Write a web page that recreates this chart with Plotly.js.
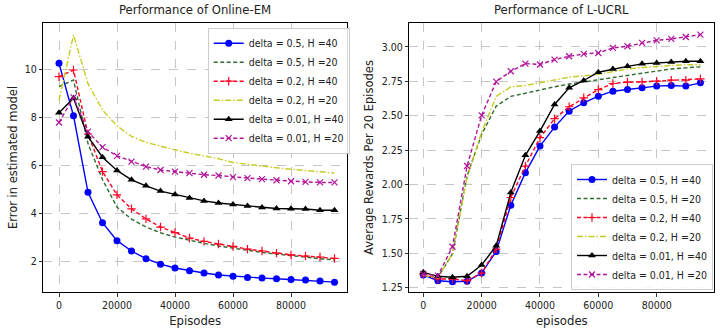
<!DOCTYPE html>
<html>
<head>
<meta charset="utf-8">
<script src="https://cdn.plot.ly/plotly-3.0.1.min.js"></script>
<style>html,body{margin:0;padding:0;background:#fff;}#chart{width:720px;height:336px;}</style>
</head>
<body>
<div id="chart"></div>
<script>
// ---- data ----
const episodes = [0, 5000, 10000, 15000, 20000, 25000, 30000, 35000, 40000, 45000,
                  50000, 55000, 60000, 65000, 70000, 75000, 80000, 85000, 90000, 95000];

const seriesNames = ["delta = 0.5, H =40", "delta = 0.5, H =20", "delta = 0.2, H =40",
                     "delta = 0.2, H =20", "delta = 0.01, H =40", "delta = 0.01, H =20"];

// Performance of Online-EM (error in estimated model)
const em_d05_h40  = [10.25, 8.06, 4.87, 3.60, 2.85, 2.42, 2.10, 1.87, 1.71, 1.60, 1.50, 1.42, 1.37, 1.32, 1.29, 1.26, 1.23, 1.21, 1.17, 1.12];
const em_d05_h20  = [9.28, 9.55, 6.90, 5.40, 4.25, 3.75, 3.42, 3.18, 3.00, 2.86, 2.74, 2.63, 2.53, 2.44, 2.36, 2.29, 2.22, 2.16, 2.10, 2.05];
const em_d02_h40  = [9.69, 9.97, 7.30, 5.73, 4.76, 4.18, 3.76, 3.42, 3.19, 2.96, 2.82, 2.71, 2.61, 2.50, 2.42, 2.33, 2.26, 2.21, 2.17, 2.11];
const em_d02_h20  = [8.70, 11.43, 9.40, 8.30, 7.64, 7.20, 6.95, 6.78, 6.64, 6.50, 6.38, 6.27, 6.11, 6.03, 5.96, 5.89, 5.83, 5.77, 5.72, 5.67];
const em_d001_h40 = [8.19, 8.79, 7.19, 6.33, 5.78, 5.39, 5.14, 4.92, 4.78, 4.63, 4.51, 4.42, 4.36, 4.30, 4.23, 4.19, 4.18, 4.17, 4.12, 4.12];
const em_d001_h20 = [7.78, 8.83, 7.40, 6.75, 6.39, 6.15, 5.94, 5.80, 5.73, 5.67, 5.60, 5.57, 5.50, 5.46, 5.42, 5.37, 5.33, 5.30, 5.28, 5.28];

// Performance of L-UCRL (average rewards per 20 episodes)
const ucrl_d05_h40  = [1.342, 1.300, 1.293, 1.296, 1.356, 1.513, 1.849, 2.086, 2.279, 2.417, 2.533, 2.594, 2.642, 2.678, 2.690, 2.703, 2.715, 2.719, 2.715, 2.739];
const ucrl_d05_h20  = [1.337, 1.325, 1.494, 2.062, 2.364, 2.570, 2.640, 2.665, 2.690, 2.710, 2.730, 2.745, 2.760, 2.775, 2.790, 2.810, 2.825, 2.840, 2.848, 2.855];
const ucrl_d02_h40  = [1.349, 1.313, 1.313, 1.300, 1.356, 1.530, 1.905, 2.134, 2.340, 2.478, 2.565, 2.630, 2.690, 2.734, 2.744, 2.746, 2.751, 2.758, 2.758, 2.768];
const ucrl_d02_h20  = [1.340, 1.320, 1.500, 2.050, 2.380, 2.640, 2.710, 2.720, 2.740, 2.760, 2.780, 2.790, 2.800, 2.820, 2.840, 2.850, 2.860, 2.865, 2.870, 2.870];
const ucrl_d001_h40 = [1.361, 1.332, 1.325, 1.332, 1.414, 1.554, 1.941, 2.212, 2.388, 2.582, 2.703, 2.756, 2.816, 2.840, 2.859, 2.877, 2.884, 2.891, 2.896, 2.896];
const ucrl_d001_h20 = [1.349, 1.337, 1.547, 2.134, 2.502, 2.748, 2.823, 2.879, 2.872, 2.908, 2.932, 2.949, 2.956, 2.993, 3.005, 3.029, 3.048, 3.058, 3.072, 3.089];

const xTicks = [0, 20000, 40000, 60000, 80000];
const xTickText = ["0", "20000", "40000", "60000", "80000"];
const yTicksLeft = [2, 4, 6, 8, 10];
const yTicksRight = [1.25, 1.50, 1.75, 2.00, 2.25, 2.50, 2.75, 3.00];

// ---- styles ----
const styles = [
  {color: "#0000ff", dash: "solid",               symbol: "circle",          msize: 7, mline: 0},
  {color: "#2f6b2f", dash: "4px,2.5px",           symbol: "line-ew",         msize: 0, mline: 0},
  {color: "#ff0022", dash: "4px,2.5px",           symbol: "cross-thin-open", msize: 6, mline: 1.2},
  {color: "#c6cc22", dash: "6px,2px,1.5px,2px",   symbol: "line-ew",         msize: 0, mline: 0},
  {color: "#000000", dash: "solid",               symbol: "triangle-up",     msize: 7, mline: 0},
  {color: "#b0149b", dash: "4px,2.5px",           symbol: "x-thin-open",     msize: 6, mline: 1.2}
];

const emSeries = [em_d05_h40, em_d05_h20, em_d02_h40, em_d02_h20, em_d001_h40, em_d001_h20];
const ucrlSeries = [ucrl_d05_h40, ucrl_d05_h20, ucrl_d02_h40, ucrl_d02_h20, ucrl_d001_h40, ucrl_d001_h20];

const FONT = "DejaVu Sans, Liberation Sans, sans-serif";
const FONT_C = "DejaVu Sans Condensed, DejaVu Sans, sans-serif";
const traces = [];
function addTraces(series, xa, ya, legendId) {
  series.forEach((vals, i) => {
    const s = styles[i];
    traces.push({
      type: "scatter",
      mode: s.msize > 0 ? "lines+markers" : "lines",
      x: episodes, y: vals,
      xaxis: xa, yaxis: ya,
      name: seriesNames[i],
      legend: legendId,
      line: {color: s.color, dash: s.dash, width: 1.4},
      marker: {symbol: s.symbol, size: s.msize, color: s.color,
               line: {color: s.color, width: s.mline}},
      hoverinfo: "x+y+name"
    });
  });
}
addTraces(emSeries, "x", "y", "legend");
addTraces(ucrlSeries, "x2", "y2", "legend2");

const W = 720, H = 336;
const axBase = {
  showline: true, mirror: true, linecolor: "#000", linewidth: 1,
  ticks: "outside", ticklen: 3.5, tickwidth: 0.8, tickcolor: "#000",
  showgrid: true, gridcolor: "#b8b8b8", griddash: "dash", gridwidth: 0.8,
  zeroline: false, automargin: false,
  tickfont: {family: FONT_C, size: 10.5, color: "#222"}
};
const yDomain = [(H - 292) / H, (H - 23) / H];

const layout = {
  width: W, height: H,
  margin: {l: 0, r: 0, t: 0, b: 0},
  paper_bgcolor: "#fff", plot_bgcolor: "#fff",
  showlegend: true,
  font: {family: FONT, color: "#222"},
  xaxis: Object.assign({}, axBase, {
    domain: [43.3 / W, 347 / W], range: [-5414, 99310], anchor: "y",
    tickvals: xTicks, ticktext: xTickText,
    title: {text: "Episodes", font: {family: FONT_C, size: 13, color: "#222"}, standoff: 5}
  }),
  yaxis: Object.assign({}, axBase, {
    domain: yDomain, range: [0.71, 11.93], anchor: "x",
    tickvals: yTicksLeft,
    title: {text: "Error in estimated model", font: {family: FONT, size: 11.5, color: "#222"}, standoff: 4}
  }),
  xaxis2: Object.assign({}, axBase, {
    domain: [409.3 / W, 714.3 / W], range: [-4800, 99760], anchor: "y2",
    tickvals: xTicks, ticktext: xTickText,
    title: {text: "episodes", font: {family: FONT_C, size: 13, color: "#222"}, standoff: 5}
  }),
  yaxis2: Object.assign({}, axBase, {
    domain: yDomain, range: [1.218, 3.174], anchor: "x2",
    tickvals: yTicksRight, tickformat: ".2f",
    title: {text: "Average Rewards Per 20 Episodes", font: {family: FONT, size: 11.5, color: "#222"}, standoff: 5}
  }),
  legend: {
    x: 207.7 / W, y: 1 - 27.7 / H, xanchor: "left", yanchor: "top",
    bgcolor: "rgba(255,255,255,0.85)", bordercolor: "#cccccc", borderwidth: 1,
    font: {family: FONT_C, size: 10.5, color: "#222"}, itemwidth: 30
  },
  legend2: {
    x: 713 / W, y: 1 - 290 / H, xanchor: "right", yanchor: "bottom",
    bgcolor: "rgba(255,255,255,0.85)", bordercolor: "#cccccc", borderwidth: 1,
    font: {family: FONT_C, size: 10.5, color: "#222"}, itemwidth: 30
  },
  annotations: [
    {text: "Performance of Online-EM", xref: "paper", yref: "paper",
     x: (43.3 + 347) / 2 / W, y: 1 - 19 / H, xanchor: "center", yanchor: "bottom",
     showarrow: false, font: {family: FONT_C, size: 13, color: "#222"}},
    {text: "Performance of L-UCRL", xref: "paper", yref: "paper",
     x: (409.3 + 714.3) / 2 / W, y: 1 - 19 / H, xanchor: "center", yanchor: "bottom",
     showarrow: false, font: {family: FONT_C, size: 13, color: "#222"}}
  ]
};

Plotly.newPlot("chart", traces, layout, {displayModeBar: false, staticPlot: true});
</script>
</body>
</html>
